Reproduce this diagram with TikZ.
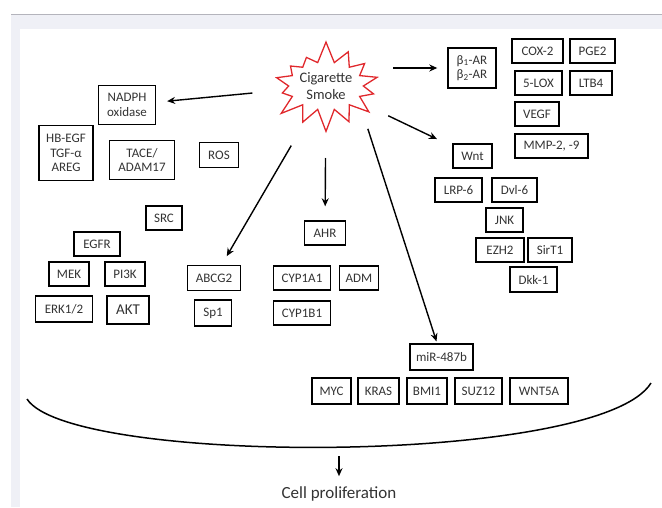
\documentclass[tikz,border=0pt]{standalone}
\usepackage{fontspec}
\setmainfont{Carlito}
\usetikzlibrary{shapes.symbols,arrows.meta}
\definecolor{pageband}{HTML}{EFF0F6}
\definecolor{pageline}{HTML}{B4B4BC}
\definecolor{labelgray}{HTML}{333333}
\definecolor{smokered}{HTML}{E0282C}
\begin{document}
\begin{tikzpicture}[x=1pt,y=-1pt,>={Stealth[length=8pt,width=7pt]},
    box/.style={rectangle,draw=black,line width=1.4pt,text=labelgray,
      font=\fontsize{13}{14.5}\selectfont,align=center,inner sep=1pt,
      minimum height=24pt},
    link/.style={->,line width=1.4pt}]
        \useasboundingbox (0,0) rectangle (662,507);
        \fill[pageband] (11,15) rectangle (662,29);
        \fill[pageband] (11,29) rectangle (20,507);
        \draw[pageline,line width=1pt] (11,14.5) -- (662,14.5);
        \node[starburst,starburst points=14,starburst point height=22pt,random starburst=7,
            draw=smokered,line width=1.3pt,inner sep=0pt,minimum width=102pt,minimum height=92pt,
            text=labelgray,align=center,font=\fontsize{14.5}{17}\selectfont] (smoke) at (326,86) {Cigarette\\Smoke};
        \node[box,minimum width=57pt,minimum height=39pt] (nadph) at (127,105) {NADPH\\oxidase};
        \node[box,minimum width=54pt,minimum height=55pt] (hbegf) at (66,153) {HB-EGF\\TGF-α\\AREG};
        \node[box,minimum width=65pt,minimum height=39pt] (tace) at (142,160) {TACE/\\ADAM17};
        \node[box,minimum width=39pt,minimum height=25pt] (ros) at (219,155) {ROS};
        \node[box,minimum width=36pt] (src) at (164,218) {SRC};
        \node[box,minimum width=46pt] (egfr) at (97,244) {EGFR};
        \node[box,minimum width=40pt] (mek) at (69,274) {MEK};
        \node[box,minimum width=40pt] (pi3k) at (125,274) {PI3K};
        \node[box,minimum width=57pt,minimum height=26pt] (erk) at (64,309) {ERK1/2};
        \node[box,minimum width=42pt,minimum height=28pt,font=\fontsize{15}{17}\selectfont] (akt) at (128,310) {AKT};
        \node[box,minimum width=53pt,minimum height=25pt] (abcg2) at (214,278) {ABCG2};
        \node[box,minimum width=37pt,minimum height=26pt] (sp1) at (213,313) {Sp1};
        \node[box,minimum width=41pt] (ahr) at (325,233) {AHR};
        \node[box,minimum width=57pt] (cyp1a1) at (302,278) {CYP1A1};
        \node[box,minimum width=39pt] (adm) at (359,278) {ADM};
        \node[box,minimum width=57pt] (cyp1b1) at (302,313) {CYP1B1};
        \node[box,minimum width=48pt,minimum height=40pt] (bar) at (472,68) {β\textsubscript{1}-AR\\β\textsubscript{2}-AR};
        \node[box,minimum width=51pt] (cox) at (537.5,51) {COX-2};
        \node[box,minimum width=45pt] (pge) at (592.5,51) {PGE2};
        \node[box,minimum width=47pt] (lox) at (538.5,83) {5-LOX};
        \node[box,minimum width=42pt] (ltb) at (591,83) {LTB4};
        \node[box,minimum width=44pt] (vegf) at (537,114) {VEGF};
        \node[box,minimum width=73pt] (mmp) at (551.5,146) {MMP-2, -9};
        \node[box,minimum width=39pt] (wnt) at (472.5,156) {Wnt};
        \node[box,minimum width=47pt] (lrp) at (458.5,190) {LRP-6};
        \node[box,minimum width=45pt] (dvl) at (514.5,190) {Dvl-6};
        \node[box,minimum width=37pt] (jnk) at (504.5,220) {JNK};
        \node[box,minimum width=48pt] (ezh) at (500,250) {EZH2};
        \node[box,minimum width=44pt] (sirt) at (550,250) {SirT1};
        \node[box,minimum width=47pt,minimum height=25pt] (dkk) at (533.5,279.5) {Dkk-1};
        \node[box,minimum width=63pt,minimum height=26pt] (mir) at (441.5,357) {miR-487b};
        \node[box,minimum width=39pt,minimum height=26pt] (myc) at (331.5,391) {MYC};
        \node[box,minimum width=41pt,minimum height=26pt] (kras) at (378.5,391) {KRAS};
        \node[box,minimum width=40pt,minimum height=26pt] (bmi) at (427,391) {BMI1};
        \node[box,minimum width=47pt,minimum height=26pt] (suz) at (478.5,391) {SUZ12};
        \node[box,minimum width=58pt,minimum height=26pt] (wnt5a) at (539,391) {WNT5A};
        \draw[link,shorten <=74pt,shorten >=11pt] (smoke.center) -- (nadph);
        \draw[link,shorten <=67pt,shorten >=10pt] (smoke.center |- bar.west) -- (bar.west);
        \draw[link,shorten <=69pt,shorten >=17pt] (smoke.center) -- (wnt);
        \draw[link,shorten <=69pt,shorten >=10pt] (smoke.center) -- (abcg2);
        \draw[link,shorten <=72pt,shorten >=14pt] (smoke.center) -- (ahr);
        \draw[link,shorten <=45pt,shorten >=2pt] ([xshift=28pt]smoke.center) -- (mir);
        \coordinate (curveleft) at (27,399);
        \coordinate (curveright) at (651,383);
        \coordinate (curvebottom) at (339,447);
        \draw[line width=1.5pt] (curveleft) .. controls (70,466) and (600,466) .. (curveright);
        \node[font=\fontsize{17}{19}\selectfont,text=labelgray] (prolif) at (339,494) {Cell proliferation};
        \draw[link,shorten <=9pt,shorten >=7pt] (curvebottom) -- (prolif);
    \end{tikzpicture}
\end{document}
